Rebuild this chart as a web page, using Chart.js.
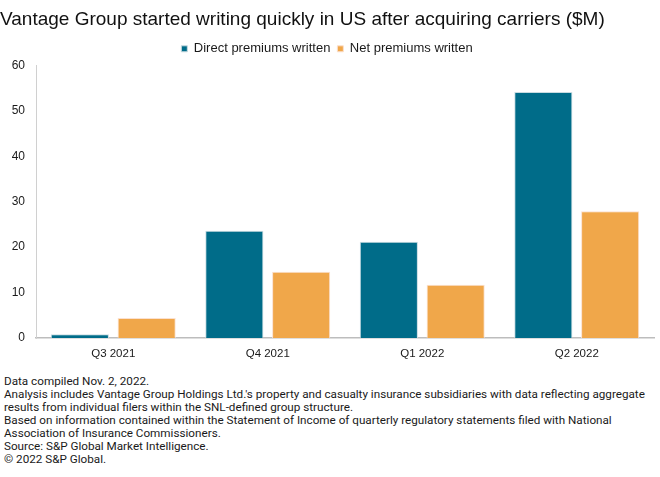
<!DOCTYPE html>
<html>
<head>
<meta charset="utf-8">
<script src="https://cdn.jsdelivr.net/npm/chart.js@4"></script>
<style>
  body { margin: 0; background: #fff; font-family: Roboto, "Liberation Sans", sans-serif; }
  #wrap { position: absolute; left: 0; top: 0; width: 660px; height: 365px; }
  #notes { position: absolute; left: 4px; top: 375px; font-size: 11.7px; line-height: 13px; color: #1a1a1a; white-space: nowrap; }
</style>
</head>
<body>
<div id="wrap"><canvas id="myChart"></canvas></div>
<div id="notes">
  Data compiled Nov. 2, 2022.<br>
  Analysis includes Vantage Group Holdings Ltd.'s property and casualty insurance subsidiaries with data reflecting aggregate<br>
  results from individual filers within the SNL-defined group structure.<br>
  Based on information contained within the Statement of Income of quarterly regulatory statements filed with National<br>
  Association of Insurance Commissioners.<br>
  Source: S&amp;P Global Market Intelligence.<br>
  © 2022 S&amp;P Global.
</div>
<script>
let quarters = ["Q3 2021", "Q4 2021", "Q1 2022", "Q2 2022"];
let directWritten = [0.8, 23.6, 21.2, 54.1];
let netWritten = [4.4, 14.6, 11.7, 27.9];
let yTicks = [0, 10, 20, 30, 40, 50, 60];

let ctx = document.getElementById("myChart").getContext("2d");

let premiumChart = new Chart(ctx, {
    type: "bar",
    data: {
        labels: quarters,
        datasets: [
            {
                label: "Direct premiums written",
                data: directWritten,
                backgroundColor: "#006c89",
                borderColor: "#c9dbe1",
                borderWidth: 1,
            },
            {
                label: "Net premiums written",
                data: netWritten,
                backgroundColor: "#f0a74a",
                borderColor: "#fbe0cf",
                borderWidth: 1,
            },
        ],
    },
    options: {
        responsive: true,
        maintainAspectRatio: false,
        animation: false,
        layout: { padding: { left: 0, right: 6, top: 0, bottom: 0 } },
        datasets: {
            bar: { categoryPercentage: 0.865, barPercentage: 0.87 },
        },
        scales: {
            x: {
                grid: { display: false, drawTicks: false },
                border: { color: "#bdbdbd", width: 1.5 },
                ticks: { color: "#1a1a1a", font: { size: 11.5 }, padding: 9 },
                afterFit: (axis) => { axis.height = 27; },
            },
            y: {
                min: 0,
                max: 60,
                afterBuildTicks: (axis) => {
                    axis.ticks = yTicks.map((v) => ({ value: v }));
                },
                grid: { display: false, drawTicks: false },
                border: { color: "#d0d0d0", width: 1 },
                ticks: { color: "#1a1a1a", font: { size: 12 }, padding: 11 },
                afterFit: (axis) => { axis.width = 36; },
            },
        },
        plugins: {
            title: {
                display: true,
                text: "Vantage Group started writing quickly in US after acquiring carriers ($M)",
                align: "start",
                color: "#111",
                font: { size: 19, weight: "500" },
                padding: { top: 8, bottom: 4.5 },
            },
            legend: {
                position: "top",
                labels: {
                    color: "#1a1a1a",
                    boxWidth: 6,
                    boxHeight: 6,
                    padding: 7,
                    font: { size: 13 },
                },
            },
            tooltip: { enabled: false },
        },
    },
});
</script>
</body>
</html>
